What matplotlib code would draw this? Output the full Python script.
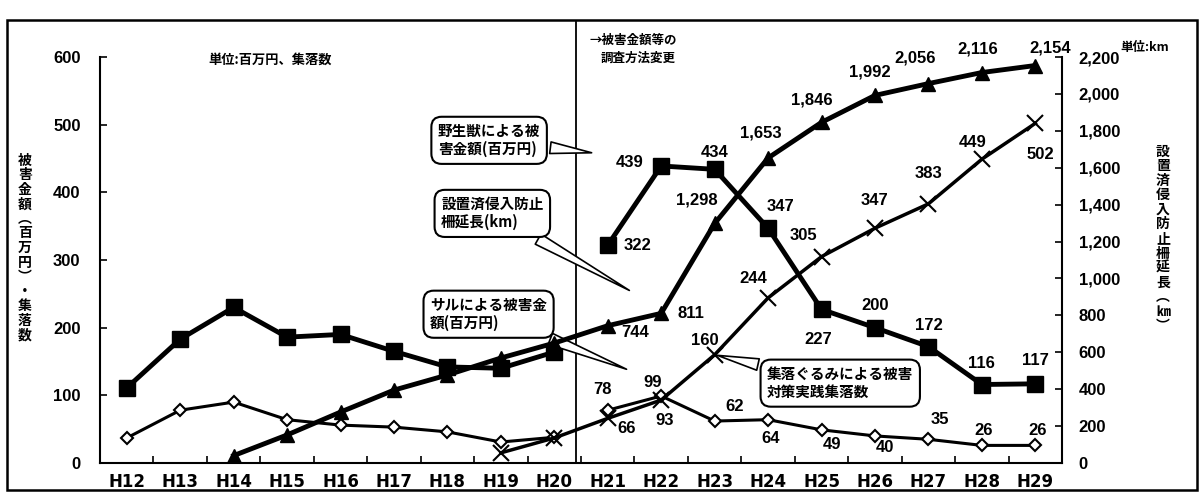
import numpy as np
import matplotlib.pyplot as plt
from matplotlib.patches import Rectangle

plt.rcParams['font.family'] = ['Noto Sans CJK JP', 'DejaVu Sans']
plt.rcParams['font.weight'] = 'bold'

years = ['H12', 'H13', 'H14', 'H15', 'H16', 'H17', 'H18', 'H19', 'H20',
         'H21', 'H22', 'H23', 'H24', 'H25', 'H26', 'H27', 'H28', 'H29']
# 野生獣による被害金額 (百万円)
wild_damage = [111, 183, 230, 186, 190, 165, 142, 140, 164,
               322, 439, 434, 347, 227, 200, 172, 116, 117]
# サルによる被害金額 (百万円)
monkey_damage = [37, 78, 90, 64, 56, 53, 46, 31, 38,
                 78, 99, 62, 64, 49, 40, 35, 26, 26]
# 設置済侵入防止柵延長 (km)
fence_km = [np.nan, np.nan, 40, 152, 276, 395, 477, 569, 650,
            744, 811, 1298, 1653, 1846, 1992, 2056, 2116, 2154]
# 集落ぐるみによる被害対策実践集落数
villages = [np.nan] * 7 + [15, 37, 66, 93, 160, 244, 305, 347, 383, 449, 502]

split = 9  # H21: survey method changed
x = np.arange(len(years))

# label offsets in pixels, for H21..H29
wild_off = [(30, 0), (-32, 3), (0, 17), (12, 22), (-3, -30), (0, 22), (0, 21), (0, 21), (0, 23)]
fence_off = [(27, -7), (30, 0), (-18, 23), (-7, 25), (-10, 22), (-5, 23), (-13, 26), (-4, 24), (15, 18)]
vill_off = [(19, -10), (3, -20), (-10, 14), (-15, 19), (-18, 21), (0, 28), (0, 30), (-9, 17), (5, -31)]
monkey_off = [(-5, 21), (-9, 14), (20, 15), (3, -19), (10, -15), (10, -12), (11, 20), (2, 15), (2, 15)]

fig = plt.figure(figsize=(12.01, 4.98), dpi=100)
ax = fig.add_axes([0.0833, 0.0703, 0.801, 0.8152])
ax2 = ax.twinx()

num_font = dict(family=['Liberation Sans', 'DejaVu Sans'], fontsize=12, fontweight='bold')

# wild animal damage (squares, broken at survey change)
for sl in (slice(0, split), slice(split, None)):
    ax.plot(x[sl], wild_damage[sl], color='black', lw=3.5, marker='s', ms=11,
            zorder=4)
# monkey damage (open diamonds)
for sl in (slice(0, split), slice(split, None)):
    ax.plot(x[sl], monkey_damage[sl], color='black', lw=2.2, marker='D', ms=6,
            mfc='white', mec='black', mew=1.5, zorder=3)
# villages (x markers)
ax.plot(x, villages, color='black', lw=2.5, marker='x', ms=12, mew=1.5, zorder=3)
# fence length (triangles, right axis)
ax2.plot(x, fence_km, color='black', lw=3.5, marker='^', ms=10, zorder=4)

for i, (dx, dy) in enumerate(wild_off):
    ax.annotate(f'{wild_damage[split + i]:,}', (x[split + i], wild_damage[split + i]),
                xytext=(dx, dy), textcoords='offset pixels', ha='center', va='center', **num_font)
for i, (dx, dy) in enumerate(monkey_off):
    ax.annotate(f'{monkey_damage[split + i]:,}', (x[split + i], monkey_damage[split + i]),
                xytext=(dx, dy), textcoords='offset pixels', ha='center', va='center', **num_font)
for i, (dx, dy) in enumerate(vill_off):
    ax.annotate(f'{villages[split + i]:,}', (x[split + i], villages[split + i]),
                xytext=(dx, dy), textcoords='offset pixels', ha='center', va='center', **num_font)
for i, (dx, dy) in enumerate(fence_off):
    ax2.annotate(f'{fence_km[split + i]:,.0f}', (x[split + i], fence_km[split + i]),
                 xytext=(dx, dy), textcoords='offset pixels', ha='center', va='center', **num_font)

# axes styling
ax.set_xlim(-0.5, 17.5)
ax.set_ylim(0, 600)
ax2.set_ylim(0, 2200)
ax.set_xticks(x)
ax.set_xticklabels(years, family='DejaVu Sans', fontsize=12, fontweight='bold')
ax.set_xticks(np.arange(0.5, 17, 1), minor=True)
ax.tick_params(axis='x', which='major', length=0, pad=7)
ax.tick_params(axis='x', which='minor', direction='in', length=5, width=1.2)
ax.set_yticks(np.arange(0, 601, 100))
ax.tick_params(axis='y', direction='in', length=5, width=1.2, pad=14)
ax2.set_yticks(np.arange(0, 2201, 200))
ax2.set_yticklabels([f'{v:,}' for v in range(0, 2201, 200)])
ax2.tick_params(axis='y', direction='in', length=5, width=1.2, pad=12)
for lab in ax.get_yticklabels() + ax2.get_yticklabels():
    lab.set_fontfamily(['Liberation Sans', 'DejaVu Sans'])
    lab.set_fontsize(12)
    lab.set_fontweight('bold')

for a in (ax, ax2):
    a.spines['top'].set_visible(False)
    a.patch.set_visible(False)
ax.spines['right'].set_visible(False)
ax2.spines['left'].set_visible(False)
ax2.spines['bottom'].set_visible(False)
for s in ('left', 'bottom'):
    ax.spines[s].set_linewidth(1.5)
ax2.spines['right'].set_linewidth(1.5)

# survey change line
ax.axvline(8.41, ymin=0, ymax=1.086, color='black', lw=1.3, clip_on=False, zorder=2)

# callouts
box = dict(boxstyle='round,pad=0.45,rounding_size=0.7', fc='white', ec='black', lw=1.5)
arrow = dict(arrowstyle='wedge,tail_width=0.8,shrink_factor=0.5', fc='white', ec='black', lw=1.2)
callouts = [
    ('野生獣による被\n害金額(百万円)', (8.75, 458), (6.78, 477)),
    ('設置済侵入防止\n柵延長(km)', (9.45, 253), (6.84, 369)),
    ('サルによる被害金\n額(百万円)', (9.4, 137), (6.77, 220)),
    ('集落ぐるみによる被害\n対策実践集落数', (11, 160), (13.35, 118)),
]
for txt, tip, pos in callouts:
    ax.annotate(txt, tip, xytext=pos, textcoords='data', ha='center', va='center',
                multialignment='left', fontsize=10.5, fontweight='bold', linespacing=1.15,
                bbox=box, arrowprops=arrow, zorder=6)

# unit notes and axis titles
fig.text(270 / 1201, 1 - 60 / 498, '単位:百万円、集落数', ha='center', va='center',
         fontsize=9.5, fontweight='bold')
fig.text(590 / 1201, 1 - 40 / 498, '→被害金額等の', ha='left', va='center',
         fontsize=9, fontweight='bold')
fig.text(601 / 1201, 1 - 58 / 498, '調査方法変更', ha='left', va='center',
         fontsize=9, fontweight='bold')
fig.text(1120 / 1201, 1 - 47 / 498, '単位:km', ha='left', va='center',
         fontsize=9, fontweight='bold')

left_title = '被害金額︵百万円︶・集落数'
right_title = '設置済侵入防止柵延長︵㎞︶'
fig.text(25 / 1201, 1 - 248 / 498, '\n'.join(left_title), ha='center', va='center',
         fontsize=10, fontweight='bold', linespacing=1.05)
fig.text(1163 / 1201, 1 - 239 / 498, '\n'.join(right_title), ha='center', va='center',
         fontsize=10, fontweight='bold', linespacing=1.05)

# outer frame
fig.patches.append(Rectangle((7 / 1201, 1 - 490 / 498), 1190 / 1201, 470 / 498,
                             transform=fig.transFigure, fill=False, ec='black', lw=1.8))

fig.savefig('out.png', dpi=100)
